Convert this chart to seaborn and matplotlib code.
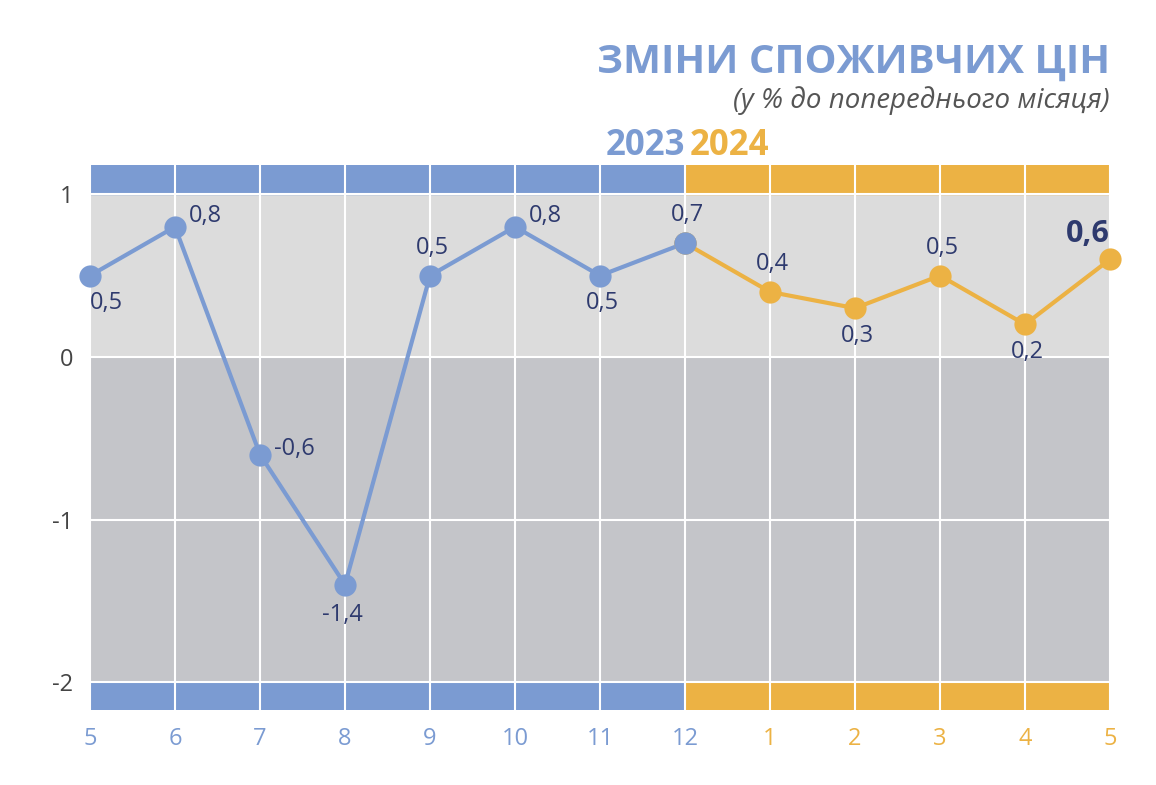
import matplotlib
matplotlib.use("Agg")
import matplotlib.pyplot as plt
import seaborn as sns
import pandas as pd

months = ["5","6","7","8","9","10","11","12","1","2","3","4","5"]
values = [0.5, 0.8, -0.6, -1.4, 0.5, 0.8, 0.5, 0.7, 0.4, 0.3, 0.5, 0.2, 0.6]
labels = ["0,5","0,8","-0,6","-1,4","0,5","0,8","0,5","0,7","0,4","0,3","0,5","0,2","0,6"]
yticks = [1, 0, -1, -2]
BLUE = "#7b9bd2"; YEL = "#ecb244"; DARK = "#2e3a6e"

df = pd.DataFrame({"x": range(len(values)), "y": values})
d23 = df.iloc[:8]; d24 = df.iloc[7:]

fig = plt.figure(figsize=(11.56, 7.85), dpi=100)
ax = fig.add_axes([90/1156, 1-710/785, 1020/1156, 545/785])
ax.set_xlim(0, 12); ax.set_ylim(-2.17, 1.18)
ax.axhspan(0, 1, color="#dcdcdc", zorder=0)
ax.axhspan(-2, 0, color="#c4c5c9", zorder=0)
ax.axhspan(1, 1.18, xmin=0, xmax=7/12, color=BLUE, zorder=1)
ax.axhspan(1, 1.18, xmin=7/12, xmax=1, color=YEL, zorder=1)
ax.axhspan(-2.17, -2, xmin=0, xmax=7/12, color=BLUE, zorder=1)
ax.axhspan(-2.17, -2, xmin=7/12, xmax=1, color=YEL, zorder=1)
for x in range(13):
    ax.axvline(x, color="white", lw=1.5, zorder=2)
for y in [1, 0, -1, -2]:
    ax.axhline(y, color="white", lw=1.5, zorder=2)

sns.lineplot(data=d23, x="x", y="y", color=BLUE, lw=3, marker="o", markersize=16,
             markeredgewidth=0, ax=ax, zorder=5, clip_on=False)
sns.lineplot(data=d24, x="x", y="y", color=YEL, lw=3, marker="o", markersize=16,
             markeredgewidth=0, ax=ax, zorder=5, clip_on=False)
ax.plot([7], [0.7], "o", color=BLUE, ms=16, mec="none", zorder=6)

offs = [(0,-20,"left"),(10,8,"left"),(10,4,"left"),(-2,-22,"center"),(2,20,"center"),
        (10,8,"left"),(2,-20,"center"),(2,20,"center"),(2,20,"center"),(2,-20,"center"),
        (2,20,"center"),(2,-20,"center"),(0,18,"right")]
for i,(dx,dy,ha) in enumerate(offs):
    bold = i == 12
    ax.annotate(labels[i], (i, values[i]), xytext=(dx*0.8 if ha!="left" else dx, dy*1.0),
                textcoords="offset points", ha=ha, va="center", color=DARK,
                fontsize=22 if bold else 17, fontweight="bold" if bold else "normal",
                family="Open Sans", zorder=7)

ax.set_xticks(range(13)); ax.set_xticklabels(months)
for i, t in enumerate(ax.get_xticklabels()):
    t.set_color(BLUE if i < 8 else YEL)
ax.set_yticks(yticks); ax.set_yticklabels([str(v) for v in yticks])
ax.tick_params(length=0, labelsize=17, pad=12)
for t in ax.get_xticklabels()+ax.get_yticklabels():
    t.set_family("Open Sans")
for t in ax.get_yticklabels():
    t.set_color("#444444")
ax.set_xlabel(""); ax.set_ylabel("")
for s in ax.spines.values():
    s.set_visible(False)

fig.text(1110/1156, 1-62/785, "ЗМІНИ СПОЖИВЧИХ ЦІН", ha="right", va="center",
         color=BLUE, fontsize=29, fontweight="bold", family="Open Sans")
fig.text(1110/1156, 1-101/785, "(у % до попереднього місяця)", ha="right", va="center",
         color="#555555", fontsize=20, style="italic", family="Open Sans")
fig.text(685/1156, 1-146/785, "2023", ha="right", va="center", color=BLUE,
         fontsize=25, fontweight="bold", family="Open Sans")
fig.text(690/1156, 1-146/785, "2024", ha="left", va="center", color=YEL,
         fontsize=25, fontweight="bold", family="Open Sans")
fig.savefig("out.png", dpi=100)
